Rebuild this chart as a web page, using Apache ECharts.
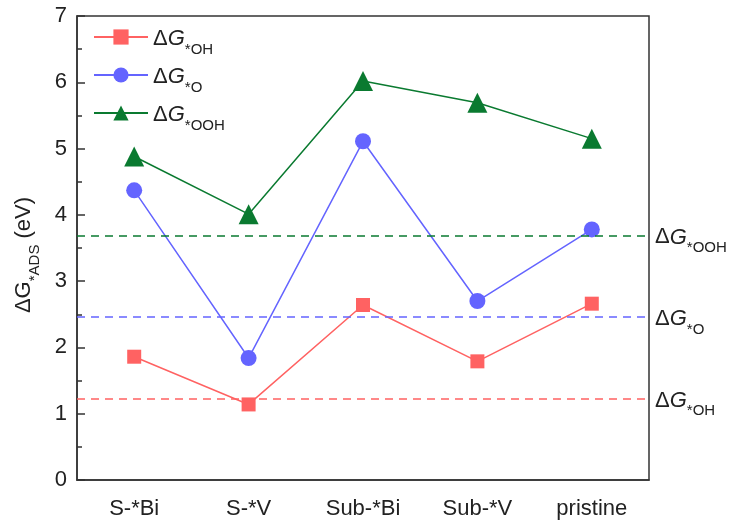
<!DOCTYPE html>
<html>
<head>
<meta charset="utf-8">
<script src="https://cdn.jsdelivr.net/npm/echarts@6/dist/echarts.min.js"></script>
<style>
  html, body { margin: 0; padding: 0; background: #fff; }
  #main { width: 731px; height: 526px; }
</style>
</head>
<body>
<div id="main"></div>
<script>
// sites on the x axis
var categories = ['S-*Bi', 'S-*V', 'Sub-*Bi', 'Sub-*V', 'pristine']
// adsorption energies (eV)
var dG_OH = [1.86, 1.14, 2.64, 1.79, 2.66]
var dG_O = [4.37, 1.84, 5.11, 2.70, 3.78]
var dG_OOH = [4.88, 4.01, 6.02, 5.69, 5.15]
// ideal reference levels (dashed)
var refOH = 1.23
var refO = 2.46
var refOOH = 3.69
var yTicks = [0, 1, 2, 3, 4, 5, 6, 7]

var fontFam = '"Liberation Sans", Arial, sans-serif'
var red = '#ff6262'
var blue = '#6464ff'
var green = '#0a7a30'

var richText = {
  d: { fontSize: 22, fontFamily: fontFam, color: '#222', lineHeight: 26, verticalAlign: 'bottom' },
  g: { fontSize: 22, fontFamily: fontFam, fontStyle: 'italic', color: '#222', lineHeight: 26, verticalAlign: 'bottom' },
  r: { fontSize: 22, fontFamily: fontFam, color: '#222', lineHeight: 26, verticalAlign: 'bottom' },
  s: { fontSize: 15, fontFamily: fontFam, color: '#222', lineHeight: 26, verticalAlign: 'bottom', padding: [0, 0, -7, 0] }
}

function dgLabel (sub) {
  return '{d|Δ}{g|G}{s|' + sub + '}'
}

var chart = echarts.init(document.getElementById('main'))

function refLine (val, sub, color) {
  return {
    silent: true,
    symbol: 'none',
    lineStyle: { color: color, type: [8, 6], width: 1.5 },
    label: {
      position: 'end',
      distance: 6,
      formatter: dgLabel(sub),
      rich: richText
    },
    data: [{ yAxis: val }]
  }
}

chart.setOption({
  animation: false,
  grid: {
    left: 77,
    right: 82,
    top: 16,
    bottom: 46,
    show: true,
    borderColor: '#333',
    borderWidth: 1.5
  },
  legend: {
    orient: 'vertical',
    left: 88,
    top: 23,
    itemWidth: 54,
    itemHeight: 19,
    itemGap: 9,
    data: ['*OH', '*O', '*OOH'],
    formatter: function (name) { return dgLabel(name) },
    textStyle: { rich: richText }
  },
  xAxis: {
    type: 'category',
    data: categories,
    boundaryGap: true,
    axisLine: { lineStyle: { color: '#333', width: 1.5 } },
    axisTick: { alignWithLabel: true, length: 9, lineStyle: { color: '#333', width: 1.5 } },
    axisLabel: { color: '#222', fontSize: 22, fontFamily: fontFam, margin: 18 },
    splitLine: { show: false }
  },
  yAxis: {
    type: 'value',
    min: yTicks[0],
    max: yTicks[yTicks.length - 1],
    interval: 1,
    name: '{r|Δ}{r|G}{s|*ADS}{r| (eV)}',
    nameLocation: 'middle',
    nameRotate: 90,
    nameGap: 42,
    nameTextStyle: { rich: richText, padding: [0, 14, 0, 0] },
    axisLine: { show: true, lineStyle: { color: '#333', width: 1.5 } },
    axisTick: { show: true, inside: true, length: 8, lineStyle: { color: '#333', width: 1.5 } },
    minorTick: { show: true, splitNumber: 2, length: 5, lineStyle: { color: '#333', width: 1.5 } },
    axisLabel: { color: '#222', fontSize: 22, fontFamily: fontFam, margin: 10 },
    splitLine: { show: false }
  },
  series: [
    {
      name: '*OH',
      type: 'line',
      data: dG_OH,
      symbol: 'rect',
      symbolSize: 14,
      itemStyle: { color: red },
      lineStyle: { color: red, width: 1.5 },
      markLine: refLine(refOH, '*OH', red)
    },
    {
      name: '*O',
      type: 'line',
      data: dG_O,
      symbol: 'circle',
      symbolSize: 16,
      itemStyle: { color: blue },
      lineStyle: { color: blue, width: 1.5 },
      markLine: refLine(refO, '*O', blue)
    },
    {
      name: '*OOH',
      type: 'line',
      data: dG_OOH,
      symbol: 'triangle',
      symbolSize: 20,
      itemStyle: { color: green },
      lineStyle: { color: green, width: 1.5 },
      markLine: refLine(refOOH, '*OOH', green)
    }
  ]
})
</script>
</body>
</html>
